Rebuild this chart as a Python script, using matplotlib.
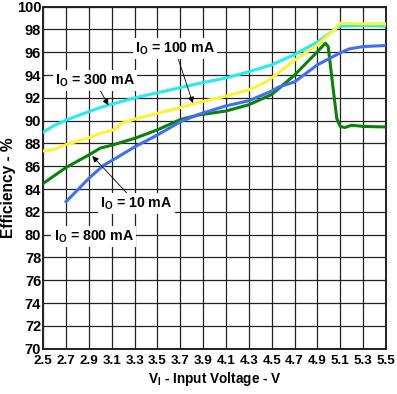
import matplotlib
matplotlib.use("Agg")
import matplotlib.pyplot as plt

plt.rcParams['font.family'] = ['Liberation Sans', 'DejaVu Sans']
plt.rcParams['font.weight'] = 'bold'
plt.rcParams['mathtext.fontset'] = 'custom'
plt.rcParams['mathtext.rm'] = 'Liberation Sans:bold'
plt.rcParams['mathtext.it'] = 'Liberation Sans:bold'
plt.rcParams['mathtext.bf'] = 'Liberation Sans:bold'

# IO = 300 mA (cyan)
v_300 = [2.5, 2.6, 2.7, 2.9, 3.0, 3.1, 3.3, 3.5, 3.7, 3.9, 4.1, 4.3, 4.5, 4.7, 4.9, 5.08, 5.12, 5.3, 5.5]
eff_300 = [89.0, 89.6, 90.05, 90.8, 91.15, 91.45, 92.0, 92.45, 92.9, 93.35, 93.75, 94.3, 94.9, 95.8, 96.9, 98.2, 98.3, 98.35, 98.3]

# IO = 100 mA (yellow)
v_100 = [2.5, 2.6, 2.7, 2.9, 3.0, 3.1, 3.14, 3.18, 3.3, 3.5, 3.7, 3.9, 4.1, 4.3, 4.46, 4.56, 4.7, 4.9, 5.06, 5.1, 5.3, 5.5]
eff_100 = [87.35, 87.5, 87.9, 88.5, 88.9, 89.15, 89.3, 89.75, 90.15, 90.65, 91.15, 91.7, 92.15, 92.7, 93.45, 94.2, 95.3, 96.65, 98.1, 98.55, 98.5, 98.5]

# IO = 10 mA (green)
v_10 = [2.5, 2.7, 2.9, 3.0, 3.1, 3.3, 3.5, 3.7, 3.86, 4.1, 4.3, 4.5, 4.56, 4.7, 4.9, 4.97, 4.995, 5.03, 5.07, 5.1, 5.14, 5.2, 5.3, 5.5]
eff_10 = [84.5, 85.9, 87.0, 87.6, 87.85, 88.45, 89.2, 90.1, 90.5, 90.85, 91.4, 92.3, 92.8, 94.0, 96.05, 96.8, 96.5, 93.5, 90.2, 89.5, 89.4, 89.6, 89.5, 89.45]

# IO = 800 mA (blue)
v_800 = [2.7, 2.9, 3.03, 3.1, 3.3, 3.5, 3.7, 3.86, 4.1, 4.3, 4.5, 4.56, 4.7, 4.9, 5.1, 5.18, 5.3, 5.5]
eff_800 = [82.9, 84.95, 86.1, 86.5, 87.7, 88.75, 89.9, 90.55, 91.3, 91.75, 92.6, 92.95, 93.4, 94.9, 95.95, 96.3, 96.5, 96.6]

x_ticks = [2.5, 2.7, 2.9, 3.1, 3.3, 3.5, 3.7, 3.9, 4.1, 4.3, 4.5, 4.7, 4.9, 5.1, 5.3, 5.5]
y_ticks = list(range(70, 101, 2))

fig = plt.figure(figsize=(3.97, 3.94), dpi=100)
ax = fig.add_axes([0.109, 0.115, 0.863, 0.868])

ax.plot(v_300, eff_300, color='#22EEF2', lw=2.2, zorder=3)
ax.plot(v_100, eff_100, color='#FFF233', lw=2.2, zorder=3)
ax.plot(v_10, eff_10, color='#0A820A', lw=2.2, zorder=4)
ax.plot(v_800, eff_800, color='#3F6FF5', lw=2.2, zorder=4)

ax.set_xlim(2.5, 5.5)
ax.set_ylim(70, 100)
ax.set_xticks(x_ticks)
ax.set_xticklabels([f'{t:.1f}' for t in x_ticks])
ax.set_yticks(y_ticks)
ax.tick_params(length=0)
ax.tick_params(axis='x', pad=4.5, labelsize=9.6)
ax.tick_params(axis='y', pad=1.5, labelsize=10.5)
for lab in ax.get_xticklabels() + ax.get_yticklabels():
    lab.set_fontweight('bold')
ax.grid(True, color='#222222', lw=0.9)
ax.set_axisbelow(True)
for s in ax.spines.values():
    s.set_linewidth(1.4)
    s.set_color('#222222')

ax.set_xlabel(r'V$_\mathrm{I}$ - Input Voltage - V', fontsize=9.8, fontweight='bold', labelpad=2)
ax.set_ylabel('Efficiency - %', fontsize=11.2, fontweight='bold')
ax.yaxis.set_label_coords(-0.08, 0.47)

box = dict(facecolor='white', edgecolor='none', pad=1.5)
arrow = dict(arrowstyle='-|>', color='black', lw=0.6, mutation_scale=9, shrinkA=0, shrinkB=0)

ax.annotate(r'I$_\mathrm{O}$ = 100 mA', xy=(3.81, 91.55), xytext=(3.3, 96.0),
            fontsize=10.2, fontweight='bold', bbox=box, arrowprops=arrow, zorder=6)
ax.annotate(r'I$_\mathrm{O}$ = 300 mA', xy=(3.07, 91.35), xytext=(2.6, 93.2),
            fontsize=10.2, fontweight='bold', bbox=box, arrowprops=arrow, zorder=6)
ax.annotate(r'I$_\mathrm{O}$ = 10 mA', xy=(2.93, 86.9), xytext=(3.0, 82.4),
            fontsize=10.2, fontweight='bold', bbox=box, arrowprops=arrow, zorder=6)
ax.text(2.59, 79.5, r'I$_\mathrm{O}$ = 800 mA', fontsize=10.2, fontweight='bold', bbox=box, zorder=6)

fig.savefig('out.png', dpi=100)
